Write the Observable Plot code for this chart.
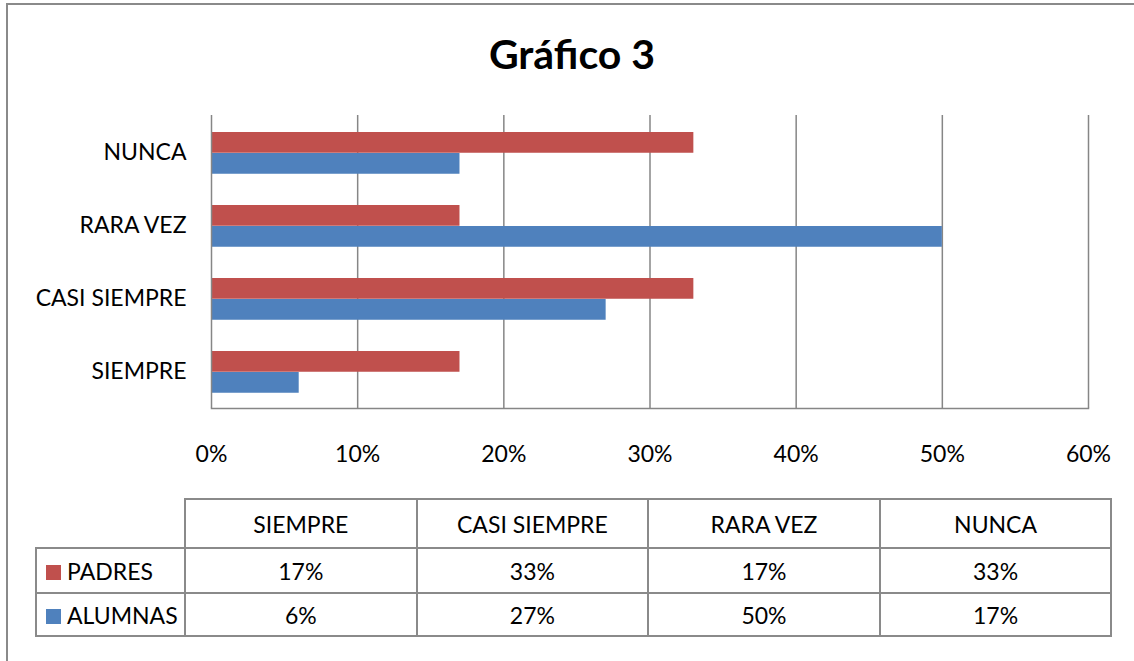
<!DOCTYPE html>
<html>
<head>
<meta charset="utf-8">
<script src="https://cdn.jsdelivr.net/npm/d3@7"></script>
<script src="https://cdn.jsdelivr.net/npm/@observablehq/plot@0.6"></script>
<style>
  html, body { margin: 0; padding: 0; background: #fff; overflow: hidden; }
  body { width: 1134px; height: 661px; position: relative; font-family: Lato, "Open Sans", sans-serif; }
  #border { position: absolute; left: 6px; top: 3px; width: 1300px; height: 800px; border: 2px solid #8a8a8a; box-sizing: border-box; }
  #title { position: absolute; left: 0; top: 31px; width: 1144px; text-align: center; font-weight: 700; font-size: 41px; line-height: 46px; color: #000; }
  #chart { position: absolute; left: 0; top: 0; }
  #tbl { position: absolute; left: 35px; top: 498px; border-collapse: collapse; font-size: 23px; color: #000; }
  #tbl td { border: 2px solid #8a8a8a; text-align: center; padding: 0; height: 43px; }
  #tbl tr.head td { height: 47px; }
  #tbl tr.last td { height: 41px; }
  #tbl td.empty { border-top: none; border-left: none; }
  #tbl td.lab { text-align: left; padding-left: 9px; width: 138px; }
  #tbl td.val { width: 229.6px; }
  .sw { display: inline-block; width: 15px; height: 15px; margin-right: 6px; vertical-align: 0px; }
</style>
</head>
<body>
<div id="border"></div>
<div id="chart"></div>
<div id="title">Gráfico 3</div>
<table id="tbl"></table>
<script>
const categories = ["SIEMPRE", "CASI SIEMPRE", "RARA VEZ", "NUNCA"];
const padres = [17, 33, 17, 33];
const alumnas = [6, 27, 50, 17];
const seriesNames = ["PADRES", "ALUMNAS"];
const seriesColors = ["#C0504D", "#4F81BD"];
const xTicks = [0, 10, 20, 30, 40, 50, 60];

const rowsPadres = categories.map((c, i) => ({category: c, value: padres[i]}));
const rowsAlumnas = categories.map((c, i) => ({category: c, value: alumnas[i]}));

const fmt = d => d + "%";

const chart = Plot.plot({
  width: 1134,
  height: 480,
  marginTop: 115,
  marginBottom: 72,
  marginLeft: 211,
  marginRight: 46,
  style: {fontFamily: "Lato, 'Open Sans', sans-serif", fontSize: "23px", color: "#000", background: "transparent"},
  x: {domain: [0, 60]},
  y: {domain: categories.slice().reverse(), padding: 0},
  marks: [
    Plot.gridX(xTicks.slice(1), {stroke: "#868686", strokeOpacity: 1, strokeWidth: 1.5}),
    Plot.barX(rowsPadres, {x: "value", y: "category", fill: seriesColors[0], insetTop: 16, insetBottom: 36.25}),
    Plot.barX(rowsAlumnas, {x: "value", y: "category", fill: seriesColors[1], insetTop: 37, insetBottom: 15.25}),
    Plot.ruleX([0], {stroke: "#868686", strokeWidth: 1.5}),
    Plot.frame({anchor: "bottom", stroke: "#868686", strokeWidth: 1.5}),
    Plot.axisX({ticks: xTicks, tickFormat: fmt, tickSize: 0, tickPadding: 37, label: null, fontSize: 23}),
    Plot.axisY({tickSize: 0, tickPadding: 25, label: null, fontSize: 23})
  ]
});
document.getElementById("chart").appendChild(chart);

// data table below the chart
const tbl = d3.select("#tbl");
const head = tbl.append("tr").attr("class", "head");
head.append("td").attr("class", "empty lab");
categories.forEach(c => head.append("td").attr("class", "val").text(c));
[padres, alumnas].forEach((vals, si) => {
  const tr = tbl.append("tr").attr("class", si === 1 ? "last" : null);
  const lab = tr.append("td").attr("class", "lab");
  lab.append("span").attr("class", "sw").style("background", seriesColors[si]);
  lab.append("span").text(seriesNames[si]);
  vals.forEach(v => tr.append("td").attr("class", "val").text(fmt(v)));
});
</script>
</body>
</html>
